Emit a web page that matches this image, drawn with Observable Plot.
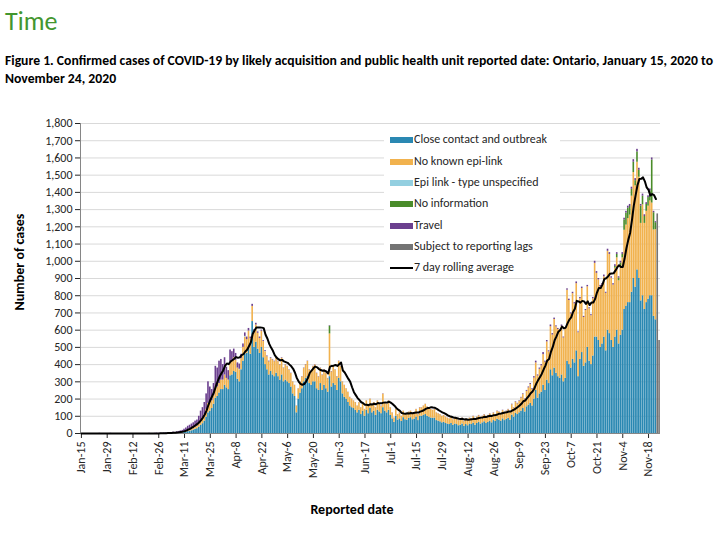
<!DOCTYPE html>
<html><head><meta charset="utf-8">
<script src="https://cdn.jsdelivr.net/npm/d3@7"></script>
<script src="https://cdn.jsdelivr.net/npm/@observablehq/plot@0.6"></script>
<style>
body{margin:0;background:#fff;}
#wrap{position:relative;width:720px;height:540px;overflow:hidden;background:#fff;font-family:Carlito,"Liberation Sans Narrow",Lato,sans-serif;color:#000;}
#title{position:absolute;left:5px;top:5px;font-size:26px;color:#43962f;font-family:Carlito,Lato,sans-serif;}
.cap{position:absolute;left:5px;font-size:14px;font-weight:bold;white-space:nowrap;transform-origin:0 0;}
#chart{position:absolute;left:0;top:95px;}
#legend{position:absolute;left:384px;top:128px;width:176px;height:147px;background:#fff;}
.li{position:absolute;left:6px;height:14px;font-size:12px;color:#262626;white-space:nowrap;}
.sw{position:absolute;left:0;top:4px;width:23px;height:6px;}
.lt{position:absolute;left:24px;top:-1px;line-height:15px;}
#ylab{position:absolute;left:19px;top:262px;transform:translate(-50%,-50%) rotate(-90deg);font-size:14px;font-weight:bold;white-space:nowrap;}
#xlab{position:absolute;left:352px;top:509px;transform:translate(-50%,-50%);font-size:14px;font-weight:bold;white-space:nowrap;}
</style></head>
<body><div id="wrap">
<div id="title">Time</div>
<div class="cap" id="cap1" style="top:52px">Figure 1. Confirmed cases of COVID-19 by likely acquisition and public health unit reported date: Ontario, January 15, 2020 to</div>
<div class="cap" id="cap2" style="top:70px">November 24, 2020</div>
<div id="chart"></div>
<div id="legend"></div>
<div id="ylab">Number of cases</div>
<div id="xlab">Reported date</div>
</div>
<script>
// Daily values, Jan 15 2020 (first) to Nov 24 2020 (last); 14 days per row
const startDate = "2020-01-15";
const categories = ["Close contact and outbreak","No known epi-link","Epi link - type unspecified","No information","Travel","Subject to reporting lags"];
const colors = ["#2a88b2","#f1b24e","#93cfe0","#4a8c2a","#6b3f8e","#747474"];
const lineLabel = "7 day rolling average";

const closeContact = [
0,0,0,0,0,0,0,0,0,0,0,0,0,0,
0,0,0,0,0,0,0,0,0,0,0,0,0,0,
0,0,0,0,0,0,0,0,0,0,0,0,0,0,
0,0,0,1,1,1,1,1,1,1,2,2,3,3,
6,8,11,13,16,20,24,28,37,47,57,72,95,120,
130,145,170,205,215,235,255,255,280,265,255,335,340,360,
355,315,300,370,420,460,465,495,460,650,500,530,490,465,
500,440,400,370,340,360,340,330,350,330,310,340,300,310,
300,290,270,230,215,120,200,235,260,300,320,330,290,280,
300,300,260,250,290,250,280,260,240,330,270,290,280,250,
320,300,230,210,200,180,160,150,145,135,120,135,110,130,
100,135,115,145,120,130,105,135,125,115,150,130,120,135,
105,85,65,100,78,85,70,92,80,77,88,92,80,84,
95,75,100,100,105,110,100,95,90,88,90,75,72,68,
62,65,58,55,52,58,48,55,52,45,48,55,42,52,
45,55,52,60,48,58,65,55,62,68,58,65,72,62,
75,70,82,78,72,85,75,82,88,78,107,95,117,110,
120,130,145,125,155,165,175,160,200,250,205,230,240,280,
250,310,290,370,335,380,350,330,320,340,300,320,420,400,
380,430,410,480,330,430,470,390,410,500,420,400,450,560,
560,540,500,520,560,480,600,580,540,500,560,600,520,570,
600,720,740,760,760,820,900,850,950,900,770,800,720,760,
780,800,800,680,660,0,0];

const noKnownEpiLink = [
0,0,0,0,0,0,0,0,0,0,0,0,0,0,
0,0,0,0,0,0,0,0,0,0,0,0,0,0,
0,0,0,0,0,0,0,0,0,0,0,0,0,0,
0,0,0,0,0,0,0,1,1,1,1,2,2,3,
4,5,7,8,9,10,12,14,18,25,31,38,45,55,
50,45,50,55,55,55,55,55,60,55,55,80,80,80,
70,65,70,65,80,100,80,100,90,88,90,100,92,87,
94,95,75,76,76,76,87,87,87,87,88,97,78,88,
88,78,78,69,64,39,59,64,68,78,78,88,78,78,
88,98,88,78,88,88,88,88,78,248,88,98,88,78,
98,88,69,69,59,59,49,49,44,44,39,44,39,39,
39,54,44,54,49,49,44,54,49,43,78,49,49,54,
44,34,24,39,31,34,29,37,34,32,36,37,34,35,
44,34,48,49,54,59,54,48,49,46,49,44,42,41,
37,39,36,34,32,36,31,34,32,29,31,34,27,32,
29,34,32,38,31,36,38,34,37,40,36,39,41,37,
43,39,46,45,42,48,44,46,50,46,60,53,65,62,
67,76,81,72,90,100,109,95,122,160,129,143,153,178,
164,222,184,250,237,282,269,274,274,282,255,284,412,372,
314,382,342,390,255,352,372,284,304,352,304,284,332,428,
370,352,352,342,350,334,458,460,362,362,400,420,367,400,
420,460,470,488,508,558,615,588,625,588,450,528,500,530,
540,550,538,502,524,0,0];

const epiLinkUnspecified = [
0,0,0,0,0,0,0,0,0,0,0,0,0,0,
0,0,0,0,0,0,0,0,0,0,0,0,0,0,
0,0,0,0,0,0,0,0,0,0,0,0,0,0,
0,0,0,0,0,0,0,0,0,0,0,0,0,0,
0,0,0,0,0,0,0,0,0,0,0,0,0,0,
0,0,0,0,0,0,0,0,0,0,0,0,0,0,
0,0,3,0,0,4,0,0,0,0,3,0,0,0,
0,0,2,0,0,0,0,0,2,0,0,0,0,0,
0,0,0,0,0,0,0,0,0,0,0,0,0,0,
0,0,0,0,0,0,0,0,0,0,0,0,0,0,
0,0,0,0,0,0,0,0,0,0,0,0,0,0,
0,0,0,0,0,0,0,0,0,0,0,0,0,0,
0,0,0,0,0,0,0,0,0,0,0,0,0,0,
0,0,0,0,0,0,0,0,0,0,0,0,0,0,
0,0,0,0,0,0,0,0,0,0,0,0,0,0,
0,0,0,0,0,0,0,0,0,0,0,0,0,0,
0,0,0,0,0,0,0,0,0,0,0,0,0,0,
0,0,0,0,0,0,0,0,0,0,0,0,0,0,
0,0,0,0,0,0,0,0,0,0,0,0,0,0,
0,0,0,0,0,0,0,0,0,0,0,0,0,0,
0,0,0,0,0,0,0,0,0,0,0,0,0,0,
0,0,0,0,0,0,0,0,0,0,0,0,0,0,
0,0,0,0,0,0,0];

const noInformation = [
0,0,0,0,0,0,0,0,0,0,0,0,0,0,
0,0,0,0,0,0,0,0,0,0,0,0,0,0,
0,0,0,0,0,0,0,0,0,0,0,0,0,0,
0,0,0,0,0,0,0,0,0,0,0,0,0,0,
0,0,0,0,0,0,0,0,0,0,0,0,0,0,
0,0,0,0,0,0,0,0,0,0,0,0,0,0,
0,0,0,0,0,0,0,0,0,0,0,0,0,0,
0,0,0,0,0,0,0,0,0,0,0,0,0,0,
0,0,0,0,0,0,0,0,0,0,0,0,0,0,
0,0,0,0,0,0,0,0,0,45,0,0,0,0,
0,0,0,0,0,0,0,0,0,0,0,0,0,0,
0,0,0,0,0,0,0,0,0,0,0,0,0,0,
0,0,0,0,0,0,0,0,0,0,0,0,0,0,
0,0,0,0,0,0,0,0,0,0,0,0,0,0,
0,0,0,0,0,0,0,0,0,0,0,0,0,0,
0,0,0,0,0,0,0,0,0,0,0,0,0,0,
0,0,0,0,0,0,0,0,0,0,0,0,0,0,
0,0,0,0,0,0,0,0,0,0,0,0,0,0,
0,0,0,0,0,0,0,0,0,0,0,0,0,0,
0,0,0,0,0,0,0,0,0,0,0,0,0,0,
0,0,0,0,0,0,0,0,0,0,10,20,15,20,
20,60,70,60,50,40,60,30,60,40,100,50,40,40,
50,60,250,100,40,0,0];

const travel = [
0,0,0,0,0,0,0,0,0,0,1,0,0,0,
0,0,1,0,0,0,0,0,0,0,0,0,0,0,
0,0,0,0,0,0,0,0,0,1,0,0,1,2,
1,2,1,2,3,2,4,4,6,4,7,8,10,12,
15,19,24,27,30,32,36,36,45,58,62,70,90,125,
90,65,70,130,110,130,120,90,100,65,55,70,55,50,
40,30,30,25,20,20,15,15,10,12,10,10,8,8,
6,5,5,4,4,4,3,3,3,3,2,3,2,2,
2,2,2,1,1,1,1,1,2,2,2,2,2,2,
2,2,2,2,2,2,2,2,2,3,2,2,2,2,
2,2,1,1,1,1,1,1,1,1,1,1,1,1,
1,1,1,1,1,1,1,1,1,2,2,1,1,1,
1,1,1,1,1,1,1,1,1,1,1,1,1,1,
1,1,2,1,1,1,1,2,1,1,1,1,1,1,
1,1,1,1,1,1,1,1,1,1,1,1,1,1,
1,1,1,2,1,1,2,1,1,2,1,1,2,1,
2,1,2,2,1,2,1,2,2,1,3,2,3,3,
3,4,4,3,5,5,6,5,8,10,6,7,7,12,
6,8,6,10,8,8,6,6,6,8,5,6,8,8,
6,8,8,10,5,8,8,6,6,8,6,6,8,12,
10,8,8,8,10,6,12,10,8,8,10,10,8,10,
10,10,10,12,12,12,15,12,15,12,10,12,10,10,
10,10,12,8,6,0,0];

const reportingLags = [
0,0,0,0,0,0,0,0,0,0,0,0,0,0,
0,0,0,0,0,0,0,0,0,0,0,0,0,0,
0,0,0,0,0,0,0,0,0,0,0,0,0,0,
0,0,0,0,0,0,0,0,0,0,0,0,0,0,
0,0,0,0,0,0,0,0,0,0,0,0,0,0,
0,0,0,0,0,0,0,0,0,0,0,0,0,0,
0,0,0,0,0,0,0,0,0,0,0,0,0,0,
0,0,0,0,0,0,0,0,0,0,0,0,0,0,
0,0,0,0,0,0,0,0,0,0,0,0,0,0,
0,0,0,0,0,0,0,0,0,0,0,0,0,0,
0,0,0,0,0,0,0,0,0,0,0,0,0,0,
0,0,0,0,0,0,0,0,0,0,0,0,0,0,
0,0,0,0,0,0,0,0,0,0,0,0,0,0,
0,0,0,0,0,0,0,0,0,0,0,0,0,0,
0,0,0,0,0,0,0,0,0,0,0,0,0,0,
0,0,0,0,0,0,0,0,0,0,0,0,0,0,
0,0,0,0,0,0,0,0,0,0,0,0,0,0,
0,0,0,0,0,0,0,0,0,0,0,0,0,0,
0,0,0,0,0,0,0,0,0,0,0,0,0,0,
0,0,0,0,0,0,0,0,0,0,0,0,0,0,
0,0,0,0,0,0,0,0,0,0,0,0,0,0,
0,0,0,0,0,0,0,0,0,0,0,0,0,0,
0,0,0,0,0,1275,540];

const yTicks = [0,100,200,300,400,500,600,700,800,900,1000,1100,1200,1300,1400,1500,1600,1700,1800];

// ---- build tables ----
const seriesValues = [closeContact, noKnownEpiLink, epiLinkUnspecified, noInformation, travel, reportingLags];
const start = new Date(startDate + "T00:00:00Z");
const nDays = closeContact.length;
const dates = d3.range(nDays).map(i => d3.utcDay.offset(start, i));
const end = d3.utcDay.offset(start, nDays);
const rows = [];
categories.forEach((cat, k) => {
  seriesValues[k].forEach((v, i) => {
    rows.push({date: dates[i], next: d3.utcDay.offset(dates[i], 1), cat, value: v});
  });
});
const totals = dates.map((d, i) => ({
  mid: d3.utcHour.offset(d, 12),
  total: closeContact[i] + noKnownEpiLink[i] + epiLinkUnspecified[i] + noInformation[i] + travel[i],
  lag: reportingLags[i]
})).filter(d => d.lag === 0);
const xTicks = dates.filter((d, i) => i % 14 === 0).map(d => d3.utcHour.offset(d, 12));

const FONT = 'Carlito,"Liberation Sans Narrow",Lato,sans-serif';
const chart = Plot.plot({
  width: 720, height: 445,
  marginTop: 28, marginBottom: 107, marginLeft: 80, marginRight: 60,
  style: {fontFamily: FONT, fontSize: "12px", color: "#262626", background: "white", overflow: "visible"},
  x: {type: "utc", domain: [start, end], ticks: xTicks, tickFormat: d3.utcFormat("%b-%-d"),
      tickRotate: -90, tickSize: 5, tickPadding: 3, label: null},
  y: {domain: [0, 1800], ticks: yTicks, tickFormat: d3.format(","), tickSize: 5, tickPadding: 3, label: null},
  color: {domain: categories, range: colors},
  marks: [
    Plot.gridY(yTicks.slice(1), {stroke: "#d9d9d9", strokeOpacity: 1}),
    Plot.rectY(rows, Plot.stackY({x1: "date", x2: "next", y: "value", z: "cat", fill: "cat",
      order: categories, insetLeft: 0.12, insetRight: 0.12})),
    Plot.ruleY([0], {stroke: "#868686"}),
    Plot.ruleX([start], {stroke: "#868686"}),
    Plot.lineY(totals, Plot.windowY({k: 7, anchor: "end"}, {x: "mid", y: "total", stroke: "#000", strokeWidth: 2}))
  ]
});
document.getElementById("chart").appendChild(chart);

// legend
const leg = document.getElementById("legend");
const legTops = [5, 26.5, 48, 69, 90.5, 112, 133];
categories.forEach((c, k) => {
  const el = document.createElement("div");
  el.className = "li"; el.style.top = legTops[k] + "px";
  el.innerHTML = `<span class="sw" style="background:${colors[k]}"></span><span class="lt">${c}</span>`;
  leg.appendChild(el);
});
{
  const el = document.createElement("div");
  el.className = "li"; el.style.top = legTops[6] + "px";
  el.innerHTML = `<span class="sw" style="background:#000;height:2px;top:6px"></span><span class="lt">${lineLabel}</span>`;
  leg.appendChild(el);
}
// fit caption width
const cap1 = document.getElementById("cap1");
const w1 = cap1.getBoundingClientRect().width;
const sc = 708 / w1;
cap1.style.transform = `scaleX(${sc})`;
document.getElementById("cap2").style.transform = `scaleX(${sc})`;
</script>
</body></html>
